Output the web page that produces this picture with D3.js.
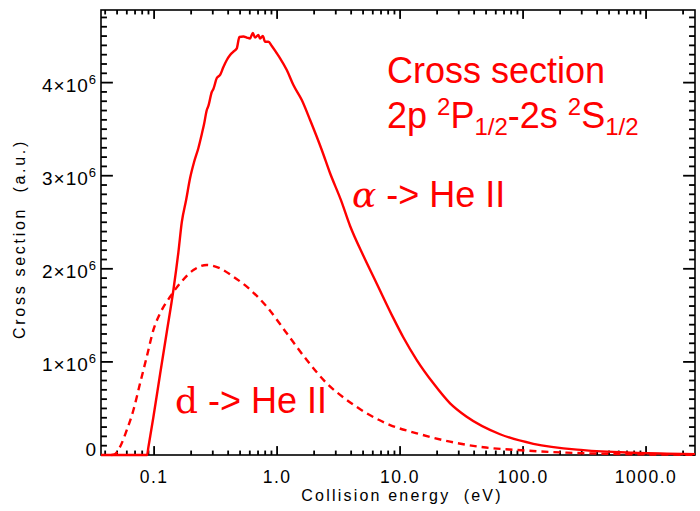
<!DOCTYPE html>
<html>
<head>
<meta charset="utf-8">
<script src="https://cdn.jsdelivr.net/npm/d3@7"></script>
<style>
  body { margin: 0; background: #fff; }
  svg { display: block; }
</style>
</head>
<body>
<div id="chart"></div>
<script>
// collision energy (eV) and cross section (units of 1e6, a.u.)
let alphaE = [0.037, 0.0877, 0.0899, 0.0987, 0.1119, 0.1268, 0.1435, 0.1576, 0.168, 0.1821,
    0.1962, 0.2114, 0.2292, 0.2443, 0.2549, 0.2682, 0.2763, 0.2944, 0.3034, 0.3235,
    0.344, 0.366, 0.3901, 0.4148, 0.4413, 0.4703, 0.4938, 0.5321, 0.5672, 0.6033,
    0.6345, 0.6625, 0.7047, 0.7274, 0.7652, 0.7989, 0.8501, 0.9056, 0.9944, 1.058,
    1.199, 1.357, 1.588, 1.855, 2.309, 2.697, 3.3, 3.923, 5.03, 6.466, 8.82,
    10.64, 13.67, 18.65, 25.5, 34.8, 65.0, 121.2, 309, 788, 2010, 2500];
let alphaS = [0, 0, 0.086, 0.408, 0.87, 1.321, 1.772, 2.18, 2.503, 2.739,
    2.975, 3.147, 3.298, 3.448, 3.555, 3.706, 3.749, 3.899, 3.931, 4.049,
    4.082, 4.168, 4.243, 4.296, 4.332, 4.368, 4.49, 4.495, 4.484, 4.474,
    4.533, 4.484, 4.511, 4.474, 4.501, 4.439, 4.439, 4.393, 4.315, 4.261,
    4.135, 3.974, 3.813, 3.598, 3.276, 3.026, 2.74, 2.46, 2.14, 1.84, 1.47,
    1.262, 1.02, 0.77, 0.555, 0.411, 0.223, 0.12, 0.052, 0.024, 0.011, 0.009];

let deutE = [0.045, 0.0482, 0.0529, 0.06, 0.0679, 0.0769, 0.0872, 0.0987, 0.1119, 0.1349,
    0.1627, 0.2087, 0.2682, 0.344, 0.4413, 0.5672, 0.8245, 1.199, 1.744, 2.536,
    3.687, 5.36, 8.29, 13.67, 25.5, 47.6, 88.9, 226, 578, 2010, 2500];
let deutS = [0, 0.011, 0.089, 0.269, 0.483, 0.77, 1.056, 1.343, 1.522, 1.7,
    1.844, 1.987, 2.041, 2.005, 1.915, 1.808, 1.593, 1.307, 1.02, 0.77,
    0.591, 0.448, 0.322, 0.233, 0.143, 0.083, 0.054, 0.025, 0.011, 0.003, 0.002];

let xTicks = [0.1, 1, 10, 100, 1000];
let xTickLabels = ["0.1", "1.0", "10.0", "100.0", "1000.0"];
let yTicks = [0, 1, 2, 3, 4];
let yTickLabels = ["0", "1×10", "2×10", "3×10", "4×10"];

let sans = "'Liberation Sans', Arial, Helvetica, sans-serif";
let serif = "'DejaVu Serif', 'Liberation Serif', serif";

let dimension = {
    width: 700,
    height: 511,
    margin: { top: 10, left: 101, right: 5, bottom: 56 }
};
let plotW = dimension.width - dimension.margin.left - dimension.margin.right;
let plotH = dimension.height - dimension.margin.top - dimension.margin.bottom;

let svg = d3.select("#chart")
    .append("svg")
    .attr("width", dimension.width)
    .attr("height", dimension.height);

let X = d3.scaleLog()
    .domain([0.037, 2500])
    .range([dimension.margin.left, dimension.width - dimension.margin.right]);
let Y = d3.scaleLinear()
    .domain([0, 4.78])
    .range([dimension.height - dimension.margin.bottom, dimension.margin.top]);

let x0 = X.range()[0], x1 = X.range()[1];
let y0 = Y.range()[0], y1 = Y.range()[1];

// minor ticks
let xMinor = [];
[-2, -1, 0, 1, 2, 3].forEach(p => {
    d3.range(2, 10).forEach(m => {
        let v = m * Math.pow(10, p);
        if (v > 0.037 && v < 2500) xMinor.push(v);
    });
});
let yMinor = d3.range(1, 48).map(i => i / 10).filter(v => Math.abs(v - Math.round(v)) > 1e-6);

let xLen = 0.02 * plotH, yLen = 0.02 * plotW;
let tw = 1.8;

// inward ticks on all four sides
let xt = xTicks.map(v => ({ v: v, len: xLen })).concat(xMinor.map(v => ({ v: v, len: xLen / 2 })));
let yt = yTicks.map(v => ({ v: v, len: yLen })).concat(yMinor.map(v => ({ v: v, len: yLen / 2 })));

let tickG = svg.append("g").attr("fill", "#000");
tickG.selectAll(".xb").data(xt).enter().append("rect")
    .attr("x", d => X(d.v) - tw / 2).attr("y", d => y0 - d.len)
    .attr("width", tw).attr("height", d => d.len);
tickG.selectAll(".xt").data(xt).enter().append("rect")
    .attr("x", d => X(d.v) - tw / 2).attr("y", y1)
    .attr("width", tw).attr("height", d => d.len);
tickG.selectAll(".yl").data(yt).enter().append("rect")
    .attr("x", x0).attr("y", d => Y(d.v) - tw / 2)
    .attr("width", d => d.len).attr("height", tw);
tickG.selectAll(".yr").data(yt).enter().append("rect")
    .attr("x", d => x1 - d.len).attr("y", d => Y(d.v) - tw / 2)
    .attr("width", d => d.len).attr("height", tw);

// frame
svg.append("rect")
    .attr("x", x0).attr("y", y1)
    .attr("width", x1 - x0).attr("height", y0 - y1)
    .attr("fill", "none")
    .attr("stroke", "#000")
    .attr("stroke-width", 1.6);

// tick labels
svg.selectAll(".xlab")
    .data(xTicks)
    .enter()
    .append("text")
    .attr("x", d => X(d))
    .attr("y", 483)
    .attr("text-anchor", "middle")
    .attr("font-family", sans)
    .attr("font-size", "17.5px")
    .attr("letter-spacing", "1.5px")
    .text((d, i) => xTickLabels[i]);

let ylab = svg.selectAll(".ylab")
    .data(yTicks)
    .enter()
    .append("text")
    .attr("x", x0 - 4)
    .attr("y", d => d === 0 ? 456 : Y(d) + 9)
    .attr("text-anchor", "end")
    .attr("font-family", sans)
    .attr("font-size", "19px")
    .attr("letter-spacing", "1px");
ylab.append("tspan").text((d, i) => yTickLabels[i]);
ylab.filter(d => d !== 0)
    .append("tspan")
    .attr("dy", -8)
    .attr("font-size", "13px")
    .text("6");

// axis titles
svg.append("text")
    .attr("x", 402)
    .attr("y", 501)
    .attr("text-anchor", "middle")
    .attr("font-family", sans)
    .attr("font-size", "16px")
    .attr("letter-spacing", "2.2px")
    .text("Collision energy\u00a0\u00a0(eV)");
svg.append("text")
    .attr("transform", "translate(25,239) rotate(-90)")
    .attr("text-anchor", "middle")
    .attr("font-family", sans)
    .attr("font-size", "16px")
    .attr("letter-spacing", "2.7px")
    .text("Cross section\u00a0\u00a0(a.u.)");

// curves
svg.append("clipPath").attr("id", "plot-clip")
    .append("rect")
    .attr("x", x0).attr("y", y1 - 2)
    .attr("width", x1 - x0).attr("height", y0 - y1 + 4);

let line = d3.line().x(d => X(d[0])).y(d => Y(d[1])).curve(d3.curveMonotoneX);

let curves = svg.append("g").attr("clip-path", "url(#plot-clip)");
curves.append("path")
    .datum(deutE.map((e, i) => [e, deutS[i]]))
    .attr("d", line)
    .attr("fill", "none")
    .attr("stroke", "#ff0000")
    .attr("stroke-width", 2.4)
    .attr("stroke-dasharray", "7,5");
curves.append("path")
    .datum(alphaE.map((e, i) => [e, alphaS[i]]))
    .attr("d", line)
    .attr("fill", "none")
    .attr("stroke", "#ff0000")
    .attr("stroke-width", 2.4)
    .attr("stroke-linejoin", "round");

// annotations
function note(x, y) {
    return svg.append("text")
        .attr("x", x).attr("y", y)
        .attr("font-family", sans)
        .attr("font-size", "36px")
        .attr("fill", "#ff0000");
}
note(387, 83).text("Cross section");
let t2 = note(387, 128);
t2.append("tspan").text("2p ");
t2.append("tspan").attr("font-size", "24px").attr("dy", -13).text("2");
t2.append("tspan").attr("dy", 13).text("P");
t2.append("tspan").attr("font-size", "24px").attr("dy", 7).text("1/2");
t2.append("tspan").attr("dy", -7).text("-2s ");
t2.append("tspan").attr("font-size", "24px").attr("dy", -13).text("2");
t2.append("tspan").attr("dy", 13).text("S");
t2.append("tspan").attr("font-size", "24px").attr("dy", 7).text("1/2");

let t3 = note(352, 207);
t3.append("tspan").attr("font-family", serif).attr("font-style", "italic").text("α");
t3.append("tspan").text(" -> He II");

let t4 = note(175, 413);
t4.append("tspan").attr("font-family", serif).text("d");
t4.append("tspan").text(" -> He II");
</script>
</body>
</html>
